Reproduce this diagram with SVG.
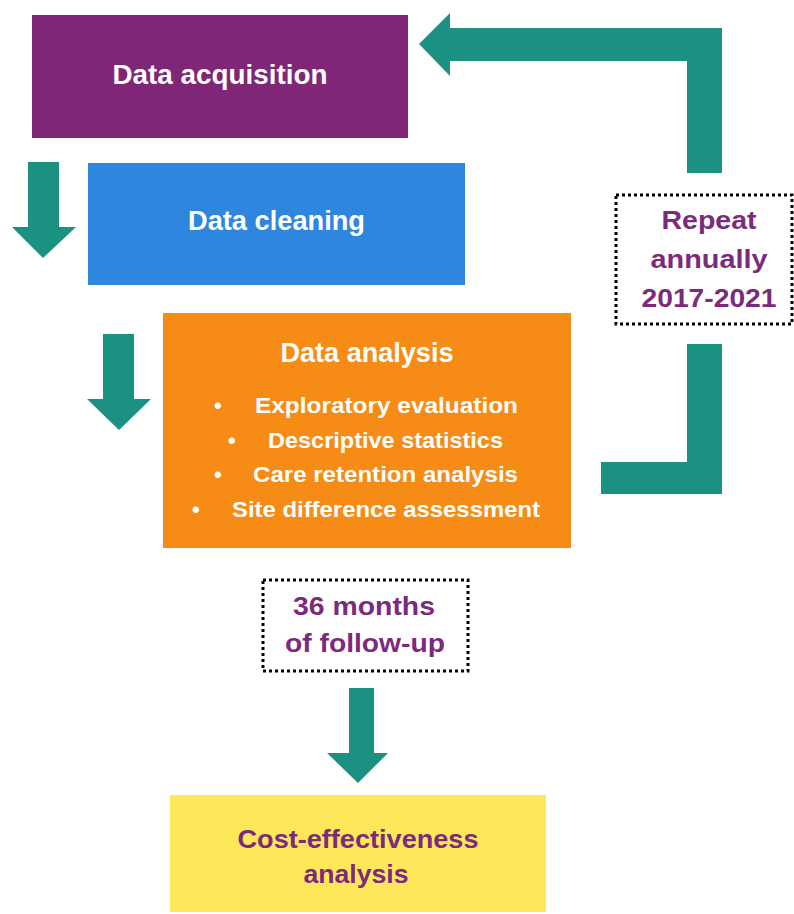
<svg xmlns="http://www.w3.org/2000/svg" width="794" height="914" viewBox="0 0 794 914">
<style>
.title{font-family:"Liberation Sans",Arial,sans-serif;font-weight:bold;font-size:27px;fill:#ffffff;text-anchor:middle}
.bul{font-family:"Liberation Sans",Arial,sans-serif;font-weight:bold;font-size:22px;fill:#ffffff}
.lbl{font-family:"Liberation Sans",Arial,sans-serif;font-weight:bold;font-size:26px;fill:#7B2A7C;text-anchor:middle}
.dot{fill:none;stroke:#000000;stroke-width:3;stroke-dasharray:3 3}
.arrow{fill:#1B9182}
</style>
<rect width="794" height="914" fill="#ffffff"/>
<g id="connectors">
<polygon class="arrow" points="419,44 450,13 450,28 722,28 722,173 687,173 687,61 450,61 450,76"/>
<polygon class="arrow" points="687,344 722,344 722,494 601,494 601,462 687,462"/>
<polygon class="arrow" points="28,162 59,162 59,227 76,227 43,258 12,227 28,227"/>
<polygon class="arrow" points="103,334 134,334 134,399 151,399 119,430 87,399 103,399"/>
<polygon class="arrow" points="349,688 374,688 374,753 388,753 358,783 327,753 349,753"/>
</g>
<g id="data-acquisition">
<rect x="32" y="15" width="376" height="123" fill="#7F2677"/>
<text class="title" x="220" y="84" textLength="215" lengthAdjust="spacingAndGlyphs">Data acquisition</text>
</g>
<g id="data-cleaning">
<rect x="88" y="163" width="377" height="122" fill="#2E86DE"/>
<text class="title" x="276.5" y="230" textLength="177" lengthAdjust="spacingAndGlyphs">Data cleaning</text>
</g>
<g id="data-analysis">
<rect x="163" y="313" width="408" height="235" fill="#F68B15"/>
<text class="title" x="367" y="362" textLength="173" lengthAdjust="spacingAndGlyphs">Data analysis</text>
<text class="bul" x="214" y="413">•</text>
<text class="bul" x="255" y="413" textLength="263" lengthAdjust="spacingAndGlyphs">Exploratory  evaluation</text>
<text class="bul" x="228" y="448">•</text>
<text class="bul" x="268" y="448" textLength="235" lengthAdjust="spacingAndGlyphs">Descriptive statistics</text>
<text class="bul" x="214" y="482">•</text>
<text class="bul" x="253" y="482" textLength="265" lengthAdjust="spacingAndGlyphs">Care retention analysis</text>
<text class="bul" x="192" y="517">•</text>
<text class="bul" x="232" y="517" textLength="308" lengthAdjust="spacingAndGlyphs">Site difference assessment</text>
</g>
<g id="repeat-annually">
<rect class="dot" x="616" y="195" width="176" height="129"/>
<text class="lbl" x="709" y="229" textLength="95" lengthAdjust="spacingAndGlyphs">Repeat</text>
<text class="lbl" x="709" y="268" textLength="117" lengthAdjust="spacingAndGlyphs">annually</text>
<text class="lbl" x="709" y="307" textLength="135" lengthAdjust="spacingAndGlyphs">2017-2021</text>
</g>
<g id="follow-up">
<rect class="dot" x="263" y="580" width="205" height="91"/>
<text class="lbl" x="364" y="615" textLength="142" lengthAdjust="spacingAndGlyphs">36 months</text>
<text class="lbl" x="365" y="652" textLength="160" lengthAdjust="spacingAndGlyphs">of follow-up</text>
</g>
<g id="cost-effectiveness">
<rect x="170" y="795" width="376" height="117" fill="#FFE75A"/>
<text class="lbl" x="358" y="848" textLength="241" lengthAdjust="spacingAndGlyphs">Cost-effectiveness</text>
<text class="lbl" x="356" y="883" textLength="105" lengthAdjust="spacingAndGlyphs">analysis</text>
</g>
</svg>
